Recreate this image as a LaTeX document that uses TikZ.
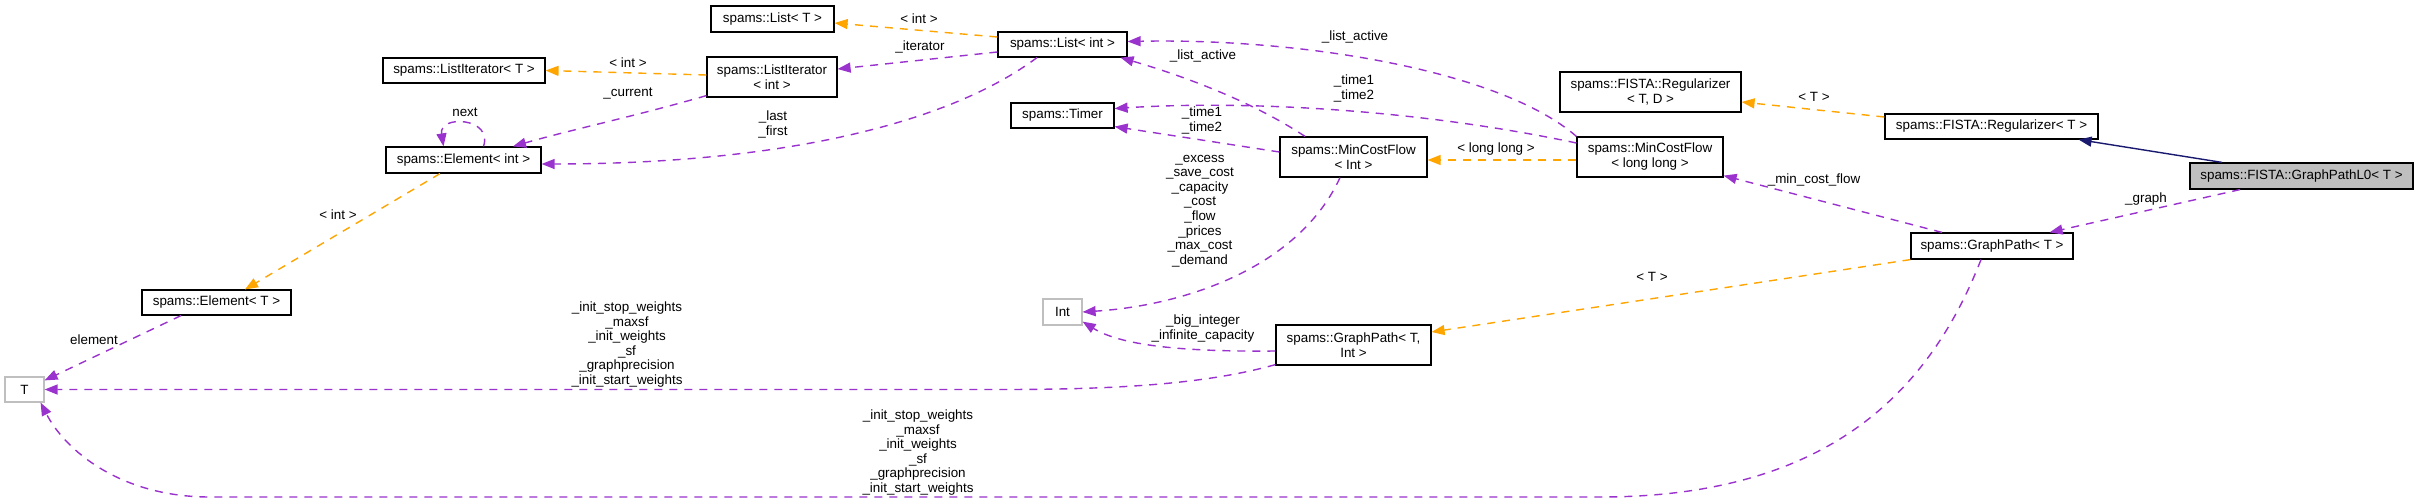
\documentclass[tikz,border=0pt]{standalone}
\usepackage{fontspec}
\setmainfont{Liberation Sans}
\usetikzlibrary{arrows.meta,calc}
\definecolor{edgeorange}{HTML}{FFA500}
\definecolor{edgepurple}{HTML}{9A32CD}
\definecolor{edgenavy}{HTML}{191970}
\definecolor{nodegray}{HTML}{BFBFBF}
\begin{document}
\begin{tikzpicture}[x=1pt,y=-1pt,
  cls/.style={draw=black, line width=1.2pt, rectangle, inner sep=0pt, align=center, font=\fontsize{13.4}{15}\selectfont},
  ext/.style={cls, draw=nodegray},
  lbl/.style={inner sep=0pt, align=center, font=\fontsize{13.4}{14.6}\selectfont},
  tip/.style={-{Triangle[length=13pt,width=10pt]}},
  tmpl/.style={draw=edgeorange, line width=1.4pt, dash pattern=on 8pt off 7pt, tip},
  usage/.style={draw=edgepurple, line width=1.4pt, dash pattern=on 8pt off 7pt, tip},
  inh/.style={draw=edgenavy, line width=1.4pt, tip}
]
\useasboundingbox (0,0) rectangle (2419,503);

% nodes
\node[cls, minimum width=123pt, minimum height=26pt] (ListT) at (772.5,19) {spams::List< T >};
\node[cls, minimum width=129pt, minimum height=25pt] (ListInt) at (1062.5,44.5) {spams::List< int >};
\node[cls, minimum width=162pt, minimum height=25pt] (ListIterT) at (464,70.5) {spams::ListIterator< T >};
\node[cls, minimum width=130pt, minimum height=40pt] (ListIterInt) at (772,77) {spams::ListIterator\\< int >};
\node[cls, minimum width=155pt, minimum height=26pt] (ElemInt) at (463.5,160) {spams::Element< int >};
\node[cls, minimum width=103pt, minimum height=25pt] (Timer) at (1062.5,115.5) {spams::Timer};
\node[cls, minimum width=147pt, minimum height=40pt] (MCFInt) at (1353.5,157) {spams::MinCostFlow\\< Int >};
\node[cls, minimum width=146pt, minimum height=40pt] (MCFLL) at (1650,157) {spams::MinCostFlow\\< long long >};
\node[cls, minimum width=181pt, minimum height=40pt] (RegTD) at (1650.5,92) {spams::FISTA::Regularizer\\< T, D >};
\node[cls, minimum width=213pt, minimum height=25pt] (RegT) at (1991.5,126.5) {spams::FISTA::Regularizer< T >};
\node[cls, fill=nodegray, minimum width=223pt, minimum height=26pt] (GPL0) at (2301.5,176) {spams::FISTA::GraphPathL0< T >};
\node[cls, minimum width=162pt, minimum height=26pt] (GPT) at (1992,246) {spams::GraphPath< T >};
\node[cls, minimum width=149pt, minimum height=25pt] (ElemT) at (216.5,302.5) {spams::Element< T >};
\node[ext, minimum width=39pt, minimum height=26pt] (Int) at (1062.5,312) {Int};
\node[cls, minimum width=155pt, minimum height=40pt] (GPTInt) at (1353.5,345) {spams::GraphPath< T,\\Int >};
\node[ext, minimum width=39pt, minimum height=25pt] (T) at (24.5,389.5) {T};

% labels
\node[lbl] (l1) at (919,19) {< int >};
\node[lbl] (l2) at (920,47) {\_iterator};
\node[lbl] (l3) at (628,63) {< int >};
\node[lbl] (l4) at (628,93) {\_current};
\node[lbl] (l5) at (773,124.5) {\_last\\\_first};
\node[lbl] (l6) at (465,112) {next};
\node[lbl] (l7) at (338,215) {< int >};
\node[lbl] (l8) at (94,340) {element};
\node[lbl] (l9) at (1203,56) {\_list\_active};
\node[lbl] (l10) at (1355,37) {\_list\_active};
\node[lbl] (l11) at (1354,88.5) {\_time1\\\_time2};
\node[lbl] (l12) at (1202,120.5) {\_time1\\\_time2};
\node[lbl] (l13) at (1496,149) {< long long >};
\node[lbl] (l14) at (1814,97) {< T >};
\node[lbl] (l15) at (1814,180) {\_min\_cost\_flow};
\node[lbl] (l16) at (2146,199) {\_graph};
\node[lbl] (l17) at (1652,277) {< T >};
\node[lbl] (l18) at (1200,211) {\_excess\\\_save\_cost\\\_capacity\\\_cost\\\_flow\\\_prices\\\_max\_cost\\\_demand};
\node[lbl] (l19) at (1203,328.5) {\_big\_integer\\\_infinite\_capacity};
\node[lbl] (l20) at (627,344.5) {\_init\_stop\_weights\\\_maxsf\\\_init\_weights\\\_sf\\\_graphprecision\\\_init\_start\_weights};
\node[lbl] (l21) at (918,452.5) {\_init\_stop\_weights\\\_maxsf\\\_init\_weights\\\_sf\\\_graphprecision\\\_init\_start\_weights};

% template instantiation edges
\draw[tmpl] ($(ListInt.west)+(0,-7.5)$) -- ($(ListT.east)+(0,4)$);
\draw[tmpl] ($(ListIterInt.west)+(0,-2)$) -- (ListIterT.east);
\draw[tmpl] ($(ElemInt.south)+(-23.5,0)$) -- ($(ElemT.north)+(28.5,0)$);
\draw[tmpl] ($(MCFLL.west)+(0,3)$) -- ($(MCFInt.east)+(0,3)$);
\draw[tmpl] ($(RegT.west)+(0,-9.5)$) -- ($(RegTD.east)+(0,10)$);
\draw[tmpl] (GPT.south west) -- ($(GPTInt.east)+(0,-13)$);

% usage edges
\draw[usage] ($(ListInt.west)+(0,7.5)$) -- ($(ListIterInt.east)+(0,-8)$);
\draw[usage] ($(ListIterInt.south west)+(0,-2)$) .. controls (640,115) and (570,130) .. ($(ElemInt.north)+(49.5,0)$);
\draw[usage] ($(ListInt.south)+(-25.5,0)$) .. controls (940,130) and (760,164) .. ($(ElemInt.east)+(0,4)$);
\draw[usage] ($(ElemInt.north)+(20,0)$) .. controls +(10,-29) and +(-5,-32) .. ($(ElemInt.north)+(-20,0)$);
\draw[usage] ($(MCFInt.north)+(-48.5,0)$) .. controls (1250,100) and (1180,75) .. ($(ListInt.south east)+(-7,0)$);
\draw[usage] (MCFLL.north west) .. controls (1500,70) and (1300,38) .. ($(ListInt.east)+(0,-3)$);
\draw[usage] ($(MCFInt.west)+(0,-5)$) -- ($(Timer.south east)+(0,-2)$);
\draw[usage] ($(MCFLL.west)+(0,-14)$) .. controls (1420,110) and (1250,100) .. ($(Timer.east)+(0,-7)$);
\draw[usage] ($(MCFInt.south)+(-13.5,0)$) .. controls (1300,265) and (1190,305) .. (Int.east);
\draw[usage] ($(GPTInt.west)+(0,6)$) .. controls (1180,352) and (1120,345) .. ($(Int.south east)+(0,-4)$);
\draw[usage] ($(GPTInt.south west)+(0,-1)$) .. controls (1200,386) and (1100,389.5) .. (1000,389.5) -- (T.east);
\draw[usage] ($(GPT.north)+(-50,0)$) -- ($(MCFLL.south east)+(0,-2)$);
\draw[usage] ($(GPL0.south)+(-61.5,0)$) -- ($(GPT.north east)+(-24,0)$);
\draw[usage] ($(GPT.south)+(-11,0)$) .. controls (1930,390) and (1830,497) .. (1600,497) -- (210,497) .. controls (120,497) and (65,450) .. ($(T.south east)+(-4,0)$);
\draw[usage] ($(ElemT.south)+(-35.5,0)$) -- ($(T.north east)+(0,4)$);

% inheritance
\draw[inh] ($(GPL0.north)+(-79.5,0)$) -- ($(RegT.south east)+(-20,0)$);
\end{tikzpicture}
\end{document}
